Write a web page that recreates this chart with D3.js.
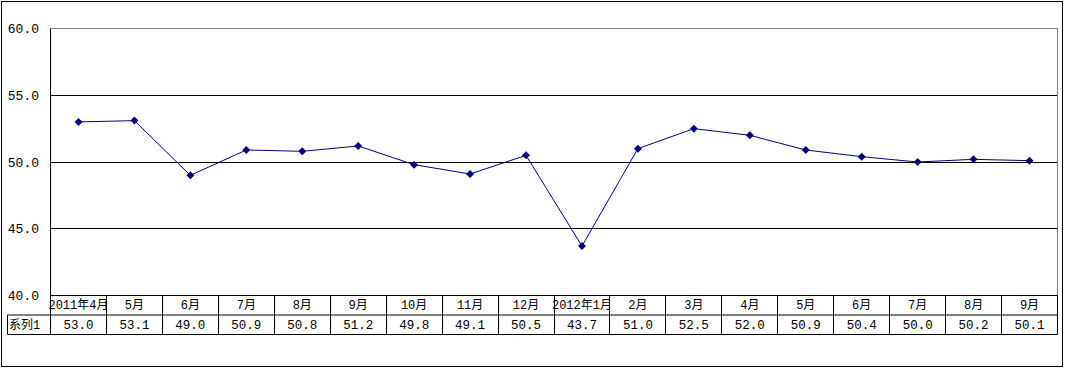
<!DOCTYPE html>
<html>
<head>
<meta charset="utf-8">
<script src="https://cdn.jsdelivr.net/npm/d3@7"></script>
<style>
  body { margin: 0; background: #fff; }
  svg text { font-family: "Liberation Mono", "Noto Sans CJK SC", monospace; fill: #000; }
</style>
</head>
<body>
<svg id="chart" width="1066" height="371"></svg>
<script>
// data
var categories = ["2011年4月", "5月", "6月", "7月", "8月", "9月", "10月", "11月", "12月",
  "2012年1月", "2月", "3月", "4月", "5月", "6月", "7月", "8月", "9月"];
var values = [53.0, 53.1, 49.0, 50.9, 50.8, 51.2, 49.8, 49.1, 50.5,
  43.7, 51.0, 52.5, 52.0, 50.9, 50.4, 50.0, 50.2, 50.1];
var seriesName = "系列1";
var yTicks = [40, 45, 50, 55, 60];

var svg = d3.select("#chart");
var plotLeft = 50.5, plotRight = 1057.5, plotTop = 28.5, plotBottom = 295.5;
var rowH = 19.5;

// outer frame
svg.append("rect")
  .attr("x", 1.5).attr("y", 1.5)
  .attr("width", 1061).attr("height", 365)
  .attr("fill", "none").attr("stroke", "#000");

var x = d3.scaleBand().domain(d3.range(categories.length)).range([plotLeft, plotRight]);
var y = d3.scaleLinear().domain([40, 60]).range([plotBottom, plotTop]);

// grid lines
svg.append("g").selectAll("line")
  .data(yTicks.filter(function(d) { return d > 40; }))
  .enter().append("line")
  .attr("x1", plotLeft).attr("x2", plotRight)
  .attr("y1", function(d) { return Math.round(y(d) - 0.5) + 0.5; })
  .attr("y2", function(d) { return Math.round(y(d) - 0.5) + 0.5; })
  .attr("stroke", function(d) { return d === 60 ? "#808080" : "#000"; });

// right plot edge
svg.append("line")
  .attr("x1", plotRight).attr("x2", plotRight).attr("y1", plotTop).attr("y2", plotBottom)
  .attr("stroke", "#808080");

// y axis
svg.append("line")
  .attr("x1", plotLeft).attr("x2", plotLeft).attr("y1", plotTop).attr("y2", plotBottom)
  .attr("stroke", "#000");
svg.append("g").selectAll("text")
  .data(yTicks)
  .enter().append("text")
  .attr("x", 39)
  .attr("y", function(d) { return y(d); })
  .attr("dy", "0.35em")
  .attr("text-anchor", "end")
  .style("font-size", "13px")
  .text(function(d) { return d3.format(".1f")(d); });

// data table
var table = svg.append("g");
table.append("line").attr("x1", plotLeft).attr("x2", plotRight)
  .attr("y1", plotBottom).attr("y2", plotBottom).attr("stroke", "#000");
table.append("line").attr("x1", 7.5).attr("x2", plotRight)
  .attr("y1", plotBottom + rowH).attr("y2", plotBottom + rowH).attr("stroke", "#000");
table.append("line").attr("x1", 7.5).attr("x2", plotRight)
  .attr("y1", plotBottom + rowH * 2).attr("y2", plotBottom + rowH * 2).attr("stroke", "#000");
table.append("line").attr("x1", 7.5).attr("x2", 7.5)
  .attr("y1", plotBottom + rowH).attr("y2", plotBottom + rowH * 2).attr("stroke", "#000");
table.selectAll(".sep")
  .data(d3.range(categories.length + 1))
  .enter().append("line")
  .attr("class", "sep")
  .attr("x1", function(i) { return Math.round(plotLeft + i * x.bandwidth() - 0.5) + 0.5; })
  .attr("x2", function(i) { return Math.round(plotLeft + i * x.bandwidth() - 0.5) + 0.5; })
  .attr("y1", plotBottom).attr("y2", plotBottom + rowH * 2)
  .attr("stroke", "#000");

table.selectAll(".cat")
  .data(categories)
  .enter().append("text")
  .attr("class", "cat")
  .attr("x", function(d, i) { return x(i) + x.bandwidth() / 2; })
  .attr("y", plotBottom + rowH / 2)
  .attr("dy", "0.35em")
  .attr("text-anchor", "middle")
  .style("font-size", "12px")
  .text(function(d) { return d; });

table.selectAll(".val")
  .data(values)
  .enter().append("text")
  .attr("class", "val")
  .attr("x", function(d, i) { return x(i) + x.bandwidth() / 2; })
  .attr("y", plotBottom + rowH * 1.5)
  .attr("dy", "0.35em")
  .attr("text-anchor", "middle")
  .style("font-size", "12.5px")
  .text(function(d) { return d3.format(".1f")(d); });

table.append("text")
  .attr("x", 9)
  .attr("y", plotBottom + rowH * 1.5)
  .attr("dy", "0.35em")
  .style("font-size", "12px")
  .text(seriesName);

// series line and markers
var line = d3.line()
  .x(function(d, i) { return x(i) + x.bandwidth() / 2; })
  .y(function(d) { return y(d); });

svg.append("path")
  .datum(values)
  .attr("d", line)
  .attr("fill", "none")
  .attr("stroke", "#000080")
  .attr("stroke-width", 1);

svg.append("g").selectAll("path")
  .data(values)
  .enter().append("path")
  .attr("d", "M0,-4L4,0L0,4L-4,0Z")
  .attr("transform", function(d, i) {
    return "translate(" + (x(i) + x.bandwidth() / 2) + "," + y(d) + ")";
  })
  .attr("fill", "#000080");
</script>
</body>
</html>
